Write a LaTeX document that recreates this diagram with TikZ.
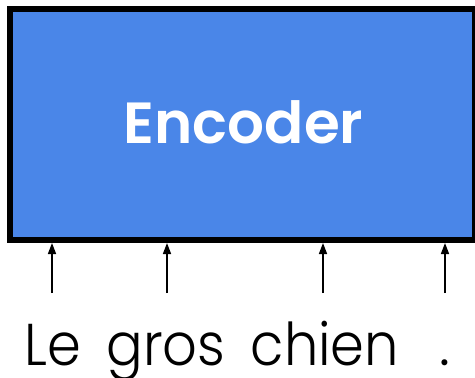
\documentclass[tikz,border=0pt]{standalone}
\usepackage{fontspec}
\setmainfont{Poppins}
\newfontfamily\wordfont{Poppins Light}
\newfontfamily\encfont{Poppins SemiBold}
\usetikzlibrary{arrows.meta}
\definecolor{encblue}{HTML}{4A86E8}
\newcommand{\tokentext}[1]{\scalebox{0.92}[1]{#1}}
\tikzset{
  encbox/.style={draw=black, fill=encblue, line width=6pt},
  tokenarrow/.style={-{Triangle[length=11pt,width=8pt]}, line width=1.6pt},
  word/.style={font=\wordfont\fontsize{59}{59}\selectfont, anchor=base, inner sep=0pt}
}
\begin{document}
\begin{tikzpicture}[x=1pt,y=-1pt]
  \useasboundingbox (0,0) rectangle (475,378);
  \draw[encbox] (9.5,9) rectangle (474.5,240);
  \node[text=white, font=\encfont\fontsize{58}{58}\selectfont, anchor=base, inner sep=0pt] (enc) at (243.5,143) {Encoder};
  \coordinate (enc1) at (52,243);
  \coordinate (enc2) at (167,243);
  \coordinate (enc3) at (323,243);
  \coordinate (enc4) at (445,243);
  \node[word] (w1) at (53,365) {\tokentext{Le}};
  \node[word] (w2) at (166,365) {\tokentext{gros}};
  \node[word] (w3) at (325,365) {\tokentext{chien}};
  \node[word] (w4) at (445,365) {.};
  \coordinate (t1) at (52,293);
  \coordinate (t2) at (167,293);
  \coordinate (t3) at (323,293);
  \coordinate (t4) at (445,293);
  \foreach \i in {1,...,4} \draw[tokenarrow] (t\i) -- (enc\i);
\end{tikzpicture}
\end{document}
